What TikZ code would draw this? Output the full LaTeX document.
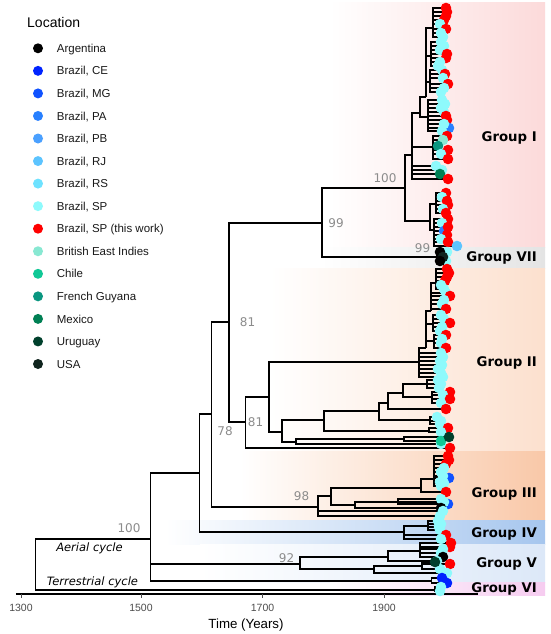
\documentclass[tikz,border=0pt]{standalone}
\usepackage{fontspec}
\setmainfont{Liberation Sans}
\newfontfamily\dvs{DejaVu Sans}
\pgfdeclarelayer{bg}\pgfdeclarelayer{fg}\pgfsetlayers{bg,main,fg}
\definecolor{SP}{RGB}{142,250,252}
\definecolor{RS}{RGB}{110,226,255}
\definecolor{RJ}{RGB}{92,196,255}
\definecolor{PB}{RGB}{74,160,255}
\definecolor{PA}{RGB}{40,128,255}
\definecolor{MG}{RGB}{16,82,255}
\definecolor{CE}{RGB}{0,36,255}
\definecolor{RD}{RGB}{255,0,0}
\definecolor{BE}{RGB}{136,232,210}
\definecolor{CL}{RGB}{16,200,150}
\definecolor{FG}{RGB}{10,150,128}
\definecolor{MX}{RGB}{0,128,84}
\definecolor{UY}{RGB}{0,64,44}
\definecolor{US}{RGB}{16,36,30}
\definecolor{AR}{RGB}{0,0,0}
\definecolor{bI}{RGB}{252,218,218}
\definecolor{bVII}{RGB}{228,228,228}
\definecolor{bII}{RGB}{252,224,206}
\definecolor{bIII}{RGB}{249,200,168}
\definecolor{bIV}{RGB}{166,198,238}
\definecolor{bV}{RGB}{220,232,248}
\definecolor{bVI}{RGB}{246,204,240}
\definecolor{nlab}{RGB}{140,140,140}
\definecolor{tick}{RGB}{77,77,77}
\newcommand\tips[2]{\foreach \tx/\ty/\tc in {#2}{\draw[tr] (#1) |- (\tx,\ty);\begin{pgfonlayer}{fg}\fill[\tc] (\tx,\ty) circle[radius=5.3pt];\end{pgfonlayer}}}
\newcommand\kid[2]{\draw[tr] (#1) |- (#2);}
\begin{document}
\begin{tikzpicture}[x=1pt,y=-1pt,
  tr/.style={line width=1.1pt,black},
  leg/.style={anchor=base west,font=\fontsize{11.5}{13}\selectfont,text=black!90,inner sep=0pt},
  grp/.style={anchor=base east,font=\dvs\bfseries\fontsize{13.3}{15}\selectfont,inner sep=0pt},
  nl/.style={anchor=base,font=\dvs\fontsize{12}{14}\selectfont,text=nlab,inner sep=0pt},
  cyc/.style={anchor=base,font=\dvs\itshape\fontsize{11.5}{13}\selectfont,inner sep=0pt},
  tl/.style={anchor=base,font=\fontsize{10.5}{12}\selectfont,text=tick,inner sep=0pt}]
\useasboundingbox (0,0) rectangle (550,634);
% bands
\begin{pgfonlayer}{bg}
\fill[white] (0,0) rectangle (550,634);
\shade[left color=white,right color=bI] (330,3) rectangle (545,247);
\shade[left color=white,right color=bVII] (320,247) rectangle (545,268);
\shade[left color=white,right color=bII] (270,268) rectangle (545,451.7);
\shade[left color=white,right color=bIII] (240,451.7) rectangle (545,520.7);
\shade[left color=white,right color=bIV] (165,520.7) rectangle (545,544.3);
\shade[left color=white,right color=bV] (200,544.3) rectangle (545,582.7);
\shade[left color=white,right color=bVI] (330,582.7) rectangle (545,595);
\end{pgfonlayer}
% legend
\node[anchor=base west,font=\fontsize{14}{16}\selectfont,inner sep=0pt] (loc) at (27,28) {Location};
\foreach \i/\col/\lab in {0/AR/Argentina,1/CE/{Brazil, CE},2/MG/{Brazil, MG},3/PA/{Brazil, PA},4/PB/{Brazil, PB},5/RJ/{Brazil, RJ},6/RS/{Brazil, RS},7/SP/{Brazil, SP},8/RD/{Brazil, SP (this work)},9/BE/British East Indies,10/CL/Chile,11/FG/French Guyana,12/MX/Mexico,13/UY/Uruguay,14/US/USA}{
  \fill[\col] (38,{48.3+22.55*\i}) circle[radius=5pt];
  \node[leg] (lg\i) at (56.7,{52.4+22.55*\i}) {\lab};
}
% tree nodes
\coordinate (R) at (35.7,564);
\coordinate (A) at (150.5,539);
\coordinate (B) at (199.5,473);
\coordinate (D) at (211.7,414);
\coordinate (E) at (229,322);
\coordinate (F) at (322,223);
\coordinate (H) at (405,188);
\coordinate (I) at (412,155);
\coordinate (K) at (420,113);
\coordinate (L) at (426,97);
\coordinate (M) at (433,28);
\coordinate (N) at (431,56);
\coordinate (O) at (430,82);
\coordinate (P) at (428,117);
\coordinate (Q) at (433,147);
\coordinate (J) at (430,221);
\coordinate (J1) at (436,204);
\coordinate (J2) at (434,230);
\coordinate (S7) at (437,257);
\coordinate (G) at (245.7,422);
\coordinate (U) at (269,397);
\coordinate (UA) at (419,362);
\coordinate (UL) at (426,348);
\coordinate (UM) at (431,311);
\coordinate (UN) at (436,283);
\coordinate (UL2) at (433,324);
\coordinate (UL3) at (434,341);
\coordinate (UB) at (282,432);
\coordinate (UC) at (324,420);
\coordinate (UD) at (296,442);
\coordinate (UD1) at (404,439);
\coordinate (UE) at (379,411);
\coordinate (UF) at (429,431);
\coordinate (UG) at (388,403);
\coordinate (UH) at (430,420);
\coordinate (UI) at (403,393);
\coordinate (UJ) at (427,384);
\coordinate (UK) at (432,397);
\coordinate (N98) at (318,507);
\coordinate (P1) at (331,496);
\coordinate (P2) at (421,488);
\coordinate (P3) at (355,505);
\coordinate (P4) at (434,479);
\coordinate (P5) at (398,502);
\coordinate (G4) at (404,532);
\coordinate (G4a) at (428,526);
\coordinate (N92) at (300,564);
\coordinate (V1) at (388,557);
\coordinate (V2) at (374,569);
\coordinate (V3) at (420,551);
\coordinate (V4) at (422,566);
\coordinate (V6) at (431.7,581);
\coordinate (VI) at (435,590);
% internal edges
\kid{R}{A} \kid{R}{VI}
\kid{A}{B} \kid{A}{N92} \kid{A}{V6}
\kid{B}{D} \kid{B}{G4}
\kid{D}{E} \kid{D}{N98}
\kid{E}{F} \kid{E}{G}
\kid{F}{H} \kid{F}{S7}
\kid{H}{I} \kid{H}{J}
\kid{I}{K} \kid{I}{Q}
\kid{K}{L} \kid{K}{P}
\kid{L}{M} \kid{L}{N} \kid{L}{O}
\kid{J}{J1} \kid{J}{J2}
\kid{G}{U}
\kid{U}{UA} \kid{U}{UB}
\kid{UA}{UL}
\kid{UL}{UM} \kid{UL}{UL2} \kid{UL}{UL3}
\kid{UM}{UN}
\kid{UB}{UC} \kid{UB}{UD}
\kid{UC}{UE} \kid{UC}{UF}
\kid{UE}{UG} \kid{UE}{UH}
\kid{UG}{UI}
\kid{UI}{UJ} \kid{UI}{UK}
\kid{UD}{UD1}
\kid{N98}{P1}
\kid{P1}{P2} \kid{P1}{P3}
\kid{P2}{P4}
\kid{P3}{P5}
\kid{G4}{G4a}
\kid{N92}{V1} \kid{N92}{V2}
\kid{V1}{V3}
\kid{V2}{V4}
% tips
\tips{M}{446/8/RD,447/12/RD,446/16/RD,444/20/RD,440/24/SP,446/29/RD,441/33/SP,443/37/SP}
\tips{N}{441/42/SP,444/46/SP,440/50/SP,447/54/RD,446/58/RD,440/62/SP,438/66/SP}
\tips{O}{442/70/SP,445/74/RD,443/78/SP,448/84/RD,444/88/SP,441/92/SP}
\tips{P}{442/100/SP,445/104/SP,441/108/SP,444/112/SP,446/116/RD,447/120/RD,449/128/PA,444/124/SP,442/131/SP}
\tips{Q}{447/136/RD,443/140/BE,438/146/FG,448/150/RD,441/154/SP,448/159/RD}
\tips{I}{436/166/SP,442/170/SP,440/174/MX,448/179/RD}
\tips{J1}{446/193/RD,442/197/SP,447/201/RD,448/205/RD,443/209/SP,446/213/RD}
\tips{J2}{448/219/RD,442/223/SP,444/231/PA,448/227/RD,447/235/RD,441/239/SP,448/242/RD,457/246/RJ}
\tips{S7}{447/252/SP,446/261/SP,440/252/AR,443/257/US,440/261/AR}
\tips{UN}{447/269/RD,449/273/RD,447/277/RD,445/281/RD,441/285/SP,444/289/SP}
\tips{UM}{446/293/SP,450/296/RD,444/300/SP,442/304/SP,446/309/RD}
\tips{UL2}{441/315/SP,444/319/SP,450/323/RD,442/327/SP,440/331/SP}
\tips{UL3}{446/335/RD,442/339/SP,441/343/SP,446/348/RD}
\tips{UA}{441/353/SP,443/357/SP,440/361/SP,442/365/SP,438/369/SP,441/373/SP,443/377/SP}
\tips{UJ}{438/380/SP,441/384/SP,439/388/SP}
\tips{UK}{450/392/RD,443/395/SP,450/399/RD,441/403/SP}
\tips{UG}{446/409/RD}
\tips{UH}{437/417/SP,441/421/SP,440/424/SP}
\tips{UF}{448/428/RD,441/432/SP}
\tips{UD}{441/444/SP}
\tips{UD1}{441/441/CL,449/437/UY}
\tips{G}{450/448/RD}
\tips{P4}{448/456/RD,449/460/RD,446/464/RD,444/468/SP,441/472/SP,449/478/MG,443/476/SP,440/482/SP,444/483/SP,441/486/SP}
\tips{P2}{446/492/RD}
\tips{P5}{441/499/SP,448/504/MG,444/502/SP}
\tips{P3}{441/508/AR}
\tips{N98}{443/511/SP,440/516/SP}
\tips{G4a}{438/521/SP,441/524/SP,439/527/SP,440/530/SP}
\tips{G4}{446/535/RD,441/539/SP}
\tips{V3}{451/543/RD,450/547/RD,443/549/SP,441/553/SP,443/557/AR}
\tips{V1}{437/561/SP}
\tips{V4}{440/569/SP,450/564/RD,435/562/UY}
\tips{V2}{447/573/SP}
\tips{V6}{442/578/CE,447/583/CE}
\tips{VI}{441/587/SP,440/591/SP}
% node support labels
\node[nl] (sA) at (129,532.4) {100};
\node[nl] (s92) at (286.5,562.4) {92};
\node[nl] (s98) at (301.5,500.4) {98};
\node[nl] (s78) at (225,435.4) {78};
\node[nl] (sE) at (247.5,326.4) {81};
\node[nl] (sG) at (255.5,426.4) {81};
\node[nl] (sF) at (336,227.4) {99};
\node[nl] (sH) at (385,182.4) {100};
\node[nl] (s7) at (422.5,252.4) {99};
% cycle labels
\node[cyc] (aer) at (89.5,551.2) {Aerial cycle};
\node[cyc] (ter) at (92.4,585.2) {Terrestrial cycle};
% group labels
\node[grp] (g1) at (537,141.8) {Group I};
\node[grp] (g7) at (537,261.8) {Group VII};
\node[grp] (g2) at (537,366.5) {Group II};
\node[grp] (g3) at (537,497.5) {Group III};
\node[grp] (g4) at (537,537.8) {Group IV};
\node[grp] (g5) at (537,567.8) {Group V};
\node[grp] (g6) at (537,592.8) {Group VI};
% axis
\draw[line width=1.1pt] (15.8,594) -- (478,594);
\foreach \xx/\yy in {21/1300,141/1500,262.5/1700,384/1900}{
  \draw[line width=0.8pt,tick] (\xx,594) -- (\xx,597.5);
  \node[tl] (t\yy) at (\xx,611) {\yy};
}
\node[anchor=base,font=\fontsize{13.3}{15}\selectfont,inner sep=0pt] (xlab) at (246,628) {Time (Years)};
\end{tikzpicture}
\end{document}
